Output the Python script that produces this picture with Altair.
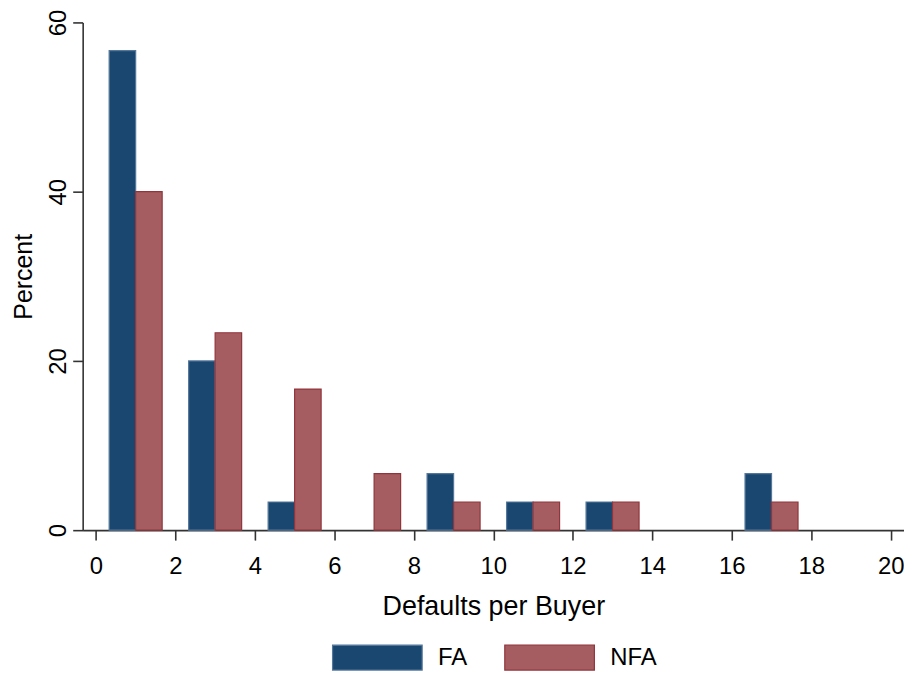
import altair as alt
import pandas as pd

bin_start = [0, 2, 4, 6, 8, 10, 12, 14, 16]
fa_pct = [56.67, 20.0, 3.33, 0.0, 6.67, 3.33, 3.33, 0.0, 6.67]
nfa_pct = [40.0, 23.33, 16.67, 6.67, 3.33, 3.33, 3.33, 0.0, 3.33]
series = ["FA", "NFA"]
x_ticks = list(range(0, 21, 2))
y_ticks = [0, 20, 40, 60]

rows = []
for b, f, n in zip(bin_start, fa_pct, nfa_pct):
    rows.append({"bin": b, "series": "FA", "pct": f})
    rows.append({"bin": b, "series": "NFA", "pct": n})
df = pd.DataFrame(rows)

FONT = "Liberation Sans"
AX = "#333333"
swatch = "M-1,-0.2778H1V0.2778H-1Z"

legend = alt.Legend(
    orient="none", legendX=250, legendY=592, direction="horizontal", title=None,
    symbolType=swatch, symbolSize=8100, symbolStrokeWidth=1.2,
    labelFontSize=24, labelFont=FONT, labelColor="black", labelOffset=15,
    columnPadding=34, padding=0, labelLimit=300,
)

chart = alt.Chart(df).transform_filter("datum.pct > 0").transform_calculate(
    x0="datum.bin + (datum.series == 'FA' ? 1/3 : 1)",
    x1="datum.bin + (datum.series == 'FA' ? 1 : 5/3)",
    base="0",
).mark_bar(strokeWidth=1.2).encode(
    x=alt.X("x0:Q",
            scale=alt.Scale(domain=[-1/3, 20 + 1/3], nice=False, zero=False),
            axis=alt.Axis(values=x_ticks, title="Defaults per Buyer", grid=False,
                          tickSize=10, labelPadding=34, labelBaseline="alphabetic",
                          labelFontSize=24, labelFont=FONT, labelColor="black",
                          labelFlush=False,
                          titleFontSize=27, titleFont=FONT, titleFontWeight="normal",
                          titleColor="black", titleBaseline="alphabetic", titleY=85,
                          domainColor=AX, domainWidth=1.6, tickColor=AX, tickWidth=1.6)),
    x2="x1:Q",
    y=alt.Y("pct:Q",
            scale=alt.Scale(domain=[0, 60], nice=False),
            axis=alt.Axis(values=y_ticks, title="Percent", grid=False,
                          tickSize=10, labelPadding=7.5, labelAngle=270,
                          labelAlign="center", labelBaseline="alphabetic",
                          labelFontSize=24, labelFont=FONT, labelColor="black",
                          labelFlush=False,
                          titleFontSize=25, titleFont=FONT, titleFontWeight="normal",
                          titleColor="black", titleAngle=270, titleBaseline="alphabetic",
                          titleX=-51,
                          domainColor=AX, domainWidth=1.6, tickColor=AX, tickWidth=1.6)),
    y2="base:Q",
    fill=alt.Fill("series:N", scale=alt.Scale(domain=series, range=["#1a476f", "#a65d62"]),
                  legend=legend),
    stroke=alt.Stroke("series:N", scale=alt.Scale(domain=series, range=["#55779a", "#90353b"]),
                      legend=legend),
).properties(
    width=825, height=510,
    autosize=alt.AutoSizeParams(type="none"),
    padding={"left": 75, "top": 13, "right": 0, "bottom": 144},
    background="white",
).configure_view(stroke=None)

chart.save("out.html", embed_options={"renderer": "svg", "actions": False})
